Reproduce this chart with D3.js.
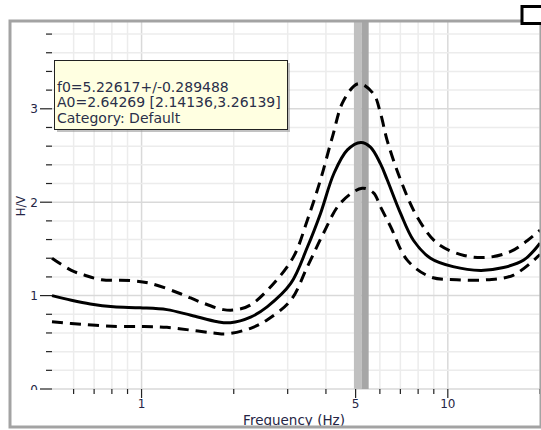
<!DOCTYPE html>
<html>
<head>
<meta charset="utf-8">
<script src="https://cdn.jsdelivr.net/npm/d3@7"></script>
<style>
  body { margin: 0; background: #fff; }
  text { font-family: "DejaVu Sans", Verdana, sans-serif; }
</style>
</head>
<body>
<div id="chart"></div>
<script>
// Data
const meanFreq = [0.51, 0.59, 0.68, 0.81, 0.99, 1.21, 1.45, 1.77, 1.95, 2.27, 2.57, 3.07, 3.48, 3.84, 4.25, 4.7, 5.2, 5.59, 6.03, 6.34, 7.01, 7.73, 8.78, 10.4, 12.8, 15.2, 17.7, 20]
const meanHV = [1.0, 0.95, 0.91, 0.88, 0.87, 0.85, 0.79, 0.72, 0.71, 0.77, 0.88, 1.13, 1.52, 1.88, 2.31, 2.56, 2.64, 2.59, 2.41, 2.24, 1.88, 1.59, 1.40, 1.31, 1.27, 1.30, 1.38, 1.56]

const upperFreq = [0.51, 0.59, 0.65, 0.74, 0.92, 1.07, 1.34, 1.56, 1.85, 2.05, 2.27, 2.7, 3.14, 3.48, 3.84, 4.2, 4.57, 5.11, 5.72, 6.03, 6.34, 7.01, 7.95, 9.24, 11.3, 13.5, 16, 18.2, 20]
const upperHV = [1.40, 1.27, 1.22, 1.17, 1.16, 1.13, 1.02, 0.93, 0.85, 0.85, 0.90, 1.13, 1.42, 1.81, 2.24, 2.70, 3.09, 3.27, 3.16, 2.95, 2.66, 2.24, 1.84, 1.56, 1.43, 1.41, 1.47, 1.59, 1.70]

const lowerFreq = [0.51, 0.65, 0.83, 1.02, 1.21, 1.45, 1.72, 1.9, 2.27, 2.57, 3.07, 3.48, 3.93, 4.46, 5.25, 5.72, 6.03, 6.5, 7.37, 8.78, 10.7, 13.5, 16.4, 20]
const lowerHV = [0.72, 0.69, 0.67, 0.67, 0.66, 0.63, 0.60, 0.59, 0.65, 0.74, 0.95, 1.31, 1.67, 1.99, 2.15, 2.10, 1.95, 1.74, 1.38, 1.20, 1.17, 1.17, 1.22, 1.44]

const f0 = 5.22617
const f0Std = 0.289488
const tooltipLines = [
  'f0=5.22617+/-0.289488',
  'A0=2.64269 [2.14136,3.26139]',
  'Category: Default'
]

const xMajorTicks = [1, 5, 10]
const xMinorTicks = [0.6, 0.7, 0.8, 0.9, 2, 3, 4, 6, 7, 8, 9, 20]
const yMajorTicks = [0, 1, 2, 3]
const yMinorTicks = d3.range(0, 3.95, 0.2).filter(v => Math.abs(v - Math.round(v)) > 0.01)

// Dimensions
const dimensions = {
  width: 541,
  height: 430,
  left: 52,
  right: 540,
  top: 21,
  bottom: 389,
}

const svg = d3.select('#chart')
  .append('svg')
  .attr('width', dimensions.width)
  .attr('height', dimensions.height)

// Scales
const xScale = d3.scaleLog()
  .domain([0.51, 20])
  .range([dimensions.left, dimensions.right])

const yScale = d3.scaleLinear()
  .domain([0, 3.94])
  .range([dimensions.bottom, dimensions.top])

// Grid
const grid = svg.append('g')
grid.selectAll('.vminor')
  .data(xMinorTicks)
  .join('line')
  .attr('x1', d => xScale(d)).attr('x2', d => xScale(d))
  .attr('y1', dimensions.top).attr('y2', dimensions.bottom)
  .attr('stroke', '#ececec').attr('stroke-width', 1.5)
grid.selectAll('.vmajor')
  .data(xMajorTicks)
  .join('line')
  .attr('x1', d => xScale(d)).attr('x2', d => xScale(d))
  .attr('y1', dimensions.top).attr('y2', dimensions.bottom)
  .attr('stroke', '#d9d9d9').attr('stroke-width', 1.5)
grid.selectAll('.hminor')
  .data(yMinorTicks)
  .join('line')
  .attr('x1', dimensions.left).attr('x2', dimensions.right)
  .attr('y1', d => yScale(d)).attr('y2', d => yScale(d))
  .attr('stroke', '#ececec').attr('stroke-width', 1.5)
grid.selectAll('.hmajor')
  .data(yMajorTicks)
  .join('line')
  .attr('x1', dimensions.left).attr('x2', dimensions.right)
  .attr('y1', d => yScale(d)).attr('y2', d => yScale(d))
  .attr('stroke', '#d9d9d9').attr('stroke-width', 1.5)

// f0 band
svg.append('rect')
  .attr('x', xScale(f0 - f0Std))
  .attr('width', xScale(f0) - xScale(f0 - f0Std))
  .attr('y', dimensions.top)
  .attr('height', dimensions.bottom - dimensions.top)
  .attr('fill', '#c0c0c0')
svg.append('rect')
  .attr('x', xScale(f0))
  .attr('width', xScale(f0 + f0Std) - xScale(f0))
  .attr('y', dimensions.top)
  .attr('height', dimensions.bottom - dimensions.top)
  .attr('fill', '#a6a6a6')

// Curves
const lineGenerator = d3.line()
  .x(d => xScale(d[0]))
  .y(d => yScale(d[1]))
  .curve(d3.curveCatmullRom.alpha(0.5))

const curves = [
  { f: upperFreq, v: upperHV, dash: '11,7' },
  { f: lowerFreq, v: lowerHV, dash: '11,7' },
  { f: meanFreq, v: meanHV, dash: null },
]
curves.forEach(c => {
  svg.append('path')
    .datum(d3.zip(c.f, c.v))
    .attr('d', lineGenerator)
    .attr('fill', 'none')
    .attr('stroke', '#000')
    .attr('stroke-width', 3)
    .attr('stroke-dasharray', c.dash)
})

// Y axis
const labelColor = '#252545'
const yAxisGroup = svg.append('g')
yAxisGroup.selectAll('.ymin')
  .data(yMinorTicks)
  .join('line')
  .attr('x1', dimensions.left - 6).attr('x2', dimensions.left)
  .attr('y1', d => yScale(d)).attr('y2', d => yScale(d))
  .attr('stroke', '#222').attr('stroke-width', 1.2)
yAxisGroup.selectAll('.ymaj')
  .data(yMajorTicks)
  .join('line')
  .attr('x1', dimensions.left - 12).attr('x2', dimensions.left)
  .attr('y1', d => yScale(d)).attr('y2', d => yScale(d))
  .attr('stroke', '#222').attr('stroke-width', 1.2)

svg.append('clipPath').attr('id', 'yclip')
  .append('rect')
  .attr('x', 0).attr('y', 0)
  .attr('width', dimensions.left).attr('height', dimensions.bottom + 1)

yAxisGroup.append('g')
  .attr('clip-path', 'url(#yclip)')
  .selectAll('text')
  .data(yMajorTicks)
  .join('text')
  .attr('x', 38)
  .attr('y', d => yScale(d) + 4.5)
  .attr('text-anchor', 'end')
  .attr('font-size', 12)
  .attr('fill', labelColor)
  .text(d => d)

svg.append('text')
  .attr('transform', 'translate(25, 206) rotate(-90)')
  .attr('text-anchor', 'middle')
  .attr('font-size', 11.5)
  .attr('fill', labelColor)
  .text('H/V')

// X axis
const xAxisGroup = svg.append('g')
xAxisGroup.selectAll('.xmin')
  .data(xMinorTicks)
  .join('line')
  .attr('x1', d => xScale(d)).attr('x2', d => xScale(d))
  .attr('y1', dimensions.bottom).attr('y2', dimensions.bottom + 5)
  .attr('stroke', '#222').attr('stroke-width', 1.2)
xAxisGroup.selectAll('.xmaj')
  .data(xMajorTicks)
  .join('line')
  .attr('x1', d => xScale(d)).attr('x2', d => xScale(d))
  .attr('y1', dimensions.bottom).attr('y2', dimensions.bottom + 9)
  .attr('stroke', '#222').attr('stroke-width', 1.2)
xAxisGroup.selectAll('text')
  .data(xMajorTicks)
  .join('text')
  .attr('x', d => xScale(d))
  .attr('y', 408)
  .attr('text-anchor', 'middle')
  .attr('font-size', 12)
  .attr('fill', labelColor)
  .text(d => d)

svg.append('text')
  .attr('x', 294)
  .attr('y', 425)
  .attr('text-anchor', 'middle')
  .attr('font-size', 13.5)
  .attr('fill', labelColor)
  .text('Frequency (Hz)')

// Frame
svg.append('rect')
  .attr('x', 10)
  .attr('y', dimensions.top)
  .attr('width', 531)
  .attr('height', 406)
  .attr('fill', 'none')
  .attr('stroke', '#a3a3a3')
  .attr('stroke-width', 3)

svg.append('rect')
  .attr('x', 522)
  .attr('y', 6.5)
  .attr('width', 22)
  .attr('height', 17)
  .attr('fill', '#fff')
  .attr('stroke', '#000')
  .attr('stroke-width', 3)

// Tooltip
const tip = svg.append('g').attr('transform', 'translate(54, 60)')
tip.append('rect')
  .attr('x', 3).attr('y', 3)
  .attr('width', 233).attr('height', 69)
  .attr('fill', '#9a9a9a').attr('opacity', 0.6)
tip.append('rect')
  .attr('x', 0.5).attr('y', 0.5)
  .attr('width', 233).attr('height', 69)
  .attr('fill', '#ffffe1')
  .attr('stroke', '#222')
tip.selectAll('text')
  .data(tooltipLines)
  .join('text')
  .attr('x', 3)
  .attr('y', (d, i) => 31.5 + i * 15.7)
  .attr('font-size', 14)
  .attr('fill', '#2a2f4a')
  .text(d => d)
</script>
</body>
</html>
